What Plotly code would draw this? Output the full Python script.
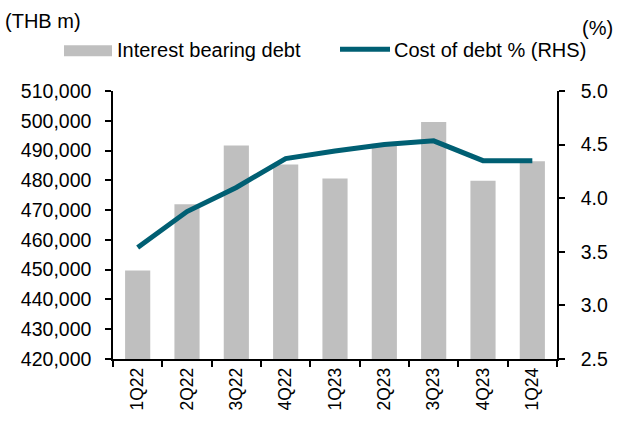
import plotly.graph_objects as go

quarters = ["1Q22", "2Q22", "3Q22", "4Q22", "1Q23", "2Q23", "3Q23", "4Q23", "1Q24"]
debt = [449700, 472000, 491700, 485300, 480600, 492300, 499600, 479900, 486400]
cost = [3.54, 3.875, 4.10, 4.37, 4.44, 4.50, 4.535, 4.35, 4.35]

BAR_C = "#BFBFBF"
LINE_C = "#005F73"
FONT = "Liberation Sans, Arial, sans-serif"

W, H = 622, 423
L, R, T, B = 113, 65, 91, 62
PW, PH = W - L - R, H - T - B

def px(x):
    return (x - L) / PW

def py(y):
    return (H - B - y) / PH

fig = go.Figure()
fig.add_trace(go.Bar(x=quarters, y=debt, marker_color=BAR_C, marker_line_width=0,
                     name="Interest bearing debt", showlegend=False))
fig.add_trace(go.Scatter(x=quarters, y=cost, yaxis="y2", mode="lines",
                         line=dict(color=LINE_C, width=5), name="Cost of debt % (RHS)",
                         showlegend=False))

axis_common = dict(showgrid=False, zeroline=False, showline=True, linecolor="black",
                   linewidth=1.5, ticks="outside", ticklen=6, tickwidth=1.5,
                   tickcolor="black")

fig.update_layout(
    width=W, height=H,
    margin=dict(l=L, r=R, t=T, b=B, pad=0),
    paper_bgcolor="white", plot_bgcolor="white",
    font=dict(family=FONT, size=20, color="black"),
    bargap=0.49,
    xaxis=dict(type="category", tickson="boundaries", tickangle=-90,
               tickfont=dict(size=17.5), **axis_common),
    yaxis=dict(range=[420000, 510000], dtick=10000, tickformat=",",
               tickfont=dict(size=19.5), ticklabelstandoff=10, **axis_common),
    yaxis2=dict(range=[2.5, 5.0], dtick=0.5, tickformat=".1f", overlaying="y",
                side="right", tickfont=dict(size=19.5), ticklabelstandoff=12,
                **axis_common),
    showlegend=False,
)

# Manual legend and unit labels
shapes = [
    dict(type="rect", xref="paper", yref="paper", x0=px(64), x1=px(112),
         y0=py(56), y1=py(45), fillcolor=BAR_C, line_width=0),
    dict(type="line", xref="paper", yref="paper", x0=px(340), x1=px(390),
         y0=py(49), y1=py(49), line=dict(color=LINE_C, width=5)),
]
annotations = [
    dict(text="Interest bearing debt", x=px(115), y=py(50), xref="paper", yref="paper",
         xanchor="left", yanchor="middle", showarrow=False, font=dict(size=20)),
    dict(text="Cost of debt % (RHS)", x=px(392), y=py(50), xref="paper", yref="paper",
         xanchor="left", yanchor="middle", showarrow=False, font=dict(size=20)),
    dict(text="(THB m)", x=px(3), y=py(20), xref="paper", yref="paper",
         xanchor="left", yanchor="middle", showarrow=False, font=dict(size=20)),
    dict(text="(%)", x=px(615), y=py(28), xref="paper", yref="paper",
         xanchor="right", yanchor="middle", showarrow=False, font=dict(size=20)),
]
fig.update_layout(shapes=shapes, annotations=annotations)

fig.write_html("out.html")
